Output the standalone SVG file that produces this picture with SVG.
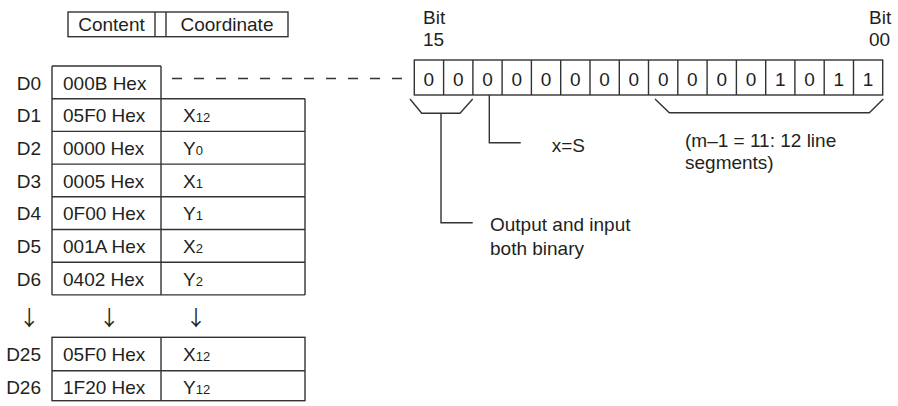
<svg xmlns="http://www.w3.org/2000/svg" width="898" height="406" viewBox="0 0 898 406">
<style>
text{font-family:"Liberation Sans",Arial,"DejaVu Sans",sans-serif;font-size:19px;fill:#231f20}
.ln{fill:none;stroke:#333;stroke-width:1.4}
.dash{fill:none;stroke:#333;stroke-width:1.4;stroke-dasharray:10 12}
.m{text-anchor:middle}
.e{text-anchor:end}
.sub{font-size:13px}
.arr{font-family:"Noto Sans CJK JP","DejaVu Sans",sans-serif;font-size:21px;text-anchor:middle}
</style>
<rect width="898" height="406" fill="#fff"/>
<g id="header">
<rect class="ln" x="68" y="12" width="220" height="24.7"/>
<line class="ln" x1="155" y1="12" x2="155" y2="36.7"/>
<line class="ln" x1="166" y1="12" x2="166" y2="36.7"/>
<text class="m" x="111.5" y="31">Content</text>
<text class="m" x="227" y="31">Coordinate</text>
</g>
<g id="table-top">
<path class="ln" d="M52 66H161M52 66V294.9M161 66V294.9M305 98.7V294.9M52 98.7H305M52 131.4H305M52 164.1H305M52 196.8H305M52 229.5H305M52 262.2H305M52 294.9H305"/>
<text class="e" x="41" y="89.5">D0</text>
<text class="e" x="41" y="122.2">D1</text>
<text class="e" x="41" y="154.9">D2</text>
<text class="e" x="41" y="187.6">D3</text>
<text class="e" x="41" y="220.3">D4</text>
<text class="e" x="41" y="253">D5</text>
<text class="e" x="41" y="285.7">D6</text>
<text x="63" y="89.5">000B Hex</text>
<text x="63" y="122.2">05F0 Hex</text>
<text x="63" y="154.9">0000 Hex</text>
<text x="63" y="187.6">0005 Hex</text>
<text x="63" y="220.3">0F00 Hex</text>
<text x="63" y="253">001A Hex</text>
<text x="63" y="285.7">0402 Hex</text>
<text x="183" y="122.2">X<tspan class="sub">12</tspan></text>
<text x="183" y="154.9">Y<tspan class="sub">0</tspan></text>
<text x="183" y="187.6">X<tspan class="sub">1</tspan></text>
<text x="183" y="220.3">Y<tspan class="sub">1</tspan></text>
<text x="183" y="253">X<tspan class="sub">2</tspan></text>
<text x="183" y="285.7">Y<tspan class="sub">2</tspan></text>
</g>
<g id="continuation">
<text class="arr" x="29.3" y="325">↓</text>
<text class="arr" x="109.3" y="325">↓</text>
<text class="arr" x="196" y="325">↓</text>
</g>
<g id="table-bottom">
<rect class="ln" x="52" y="337.3" width="253" height="63.4"/>
<path class="ln" d="M52 370.7H305M161 337.3V400.7"/>
<text class="e" x="41" y="361">D25</text>
<text class="e" x="41" y="393.5">D26</text>
<text x="63" y="361">05F0 Hex</text>
<text x="63" y="393.5">1F20 Hex</text>
<text x="183" y="361">X<tspan class="sub">12</tspan></text>
<text x="183" y="393.5">Y<tspan class="sub">12</tspan></text>
</g>
<g id="bitfield">
<rect class="ln" x="414.3" y="60" width="468.4" height="35"/>
<path class="ln" d="M443.6 60V95M472.9 60V95M502.1 60V95M531.4 60V95M560.7 60V95M590 60V95M619.3 60V95M648.5 60V95M677.8 60V95M707.1 60V95M736.4 60V95M765.7 60V95M794.9 60V95M824.2 60V95M853.5 60V95"/>
<text class="m" x="428.9" y="86">0</text>
<text class="m" x="458.2" y="86">0</text>
<text class="m" x="487.5" y="86">0</text>
<text class="m" x="516.8" y="86">0</text>
<text class="m" x="546" y="86">0</text>
<text class="m" x="575.3" y="86">0</text>
<text class="m" x="604.6" y="86">0</text>
<text class="m" x="633.9" y="86">0</text>
<text class="m" x="663.2" y="86">0</text>
<text class="m" x="692.4" y="86">0</text>
<text class="m" x="721.7" y="86">0</text>
<text class="m" x="751" y="86">0</text>
<text class="m" x="780.3" y="86">1</text>
<text class="m" x="809.6" y="86">0</text>
<text class="m" x="838.8" y="86">1</text>
<text class="m" x="868.1" y="86">1</text>
<text x="423" y="24">Bit</text>
<text x="423" y="46">15</text>
<text x="869" y="24">Bit</text>
<text x="869" y="46">00</text>
</g>
<g id="label-binary">
<text x="490" y="230.7">Output and input</text>
<text x="490" y="254.7">both binary</text>
</g>
<g id="label-xs">
<text x="551.7" y="152.3">x=S</text>
</g>
<g id="label-segments">
<text x="685" y="146.7">(m–1 = 11: 12 line</text>
<text x="685" y="169.3">segments)</text>
</g>
<g id="connectors">
<line class="dash" x1="172" y1="78.5" x2="406" y2="78.5"/>
<polyline class="ln" points="410,99 421.7,113.3 460,113.3 472.7,99"/>
<polyline class="ln" points="441,113.3 441,222.7 472.7,222.7"/>
<polyline class="ln" points="489.3,95 489.3,142.7 520.7,142.7"/>
<polyline class="ln" points="655,99 669.3,112.7 869.3,112.7 883.3,99"/>
</g>
</svg>
